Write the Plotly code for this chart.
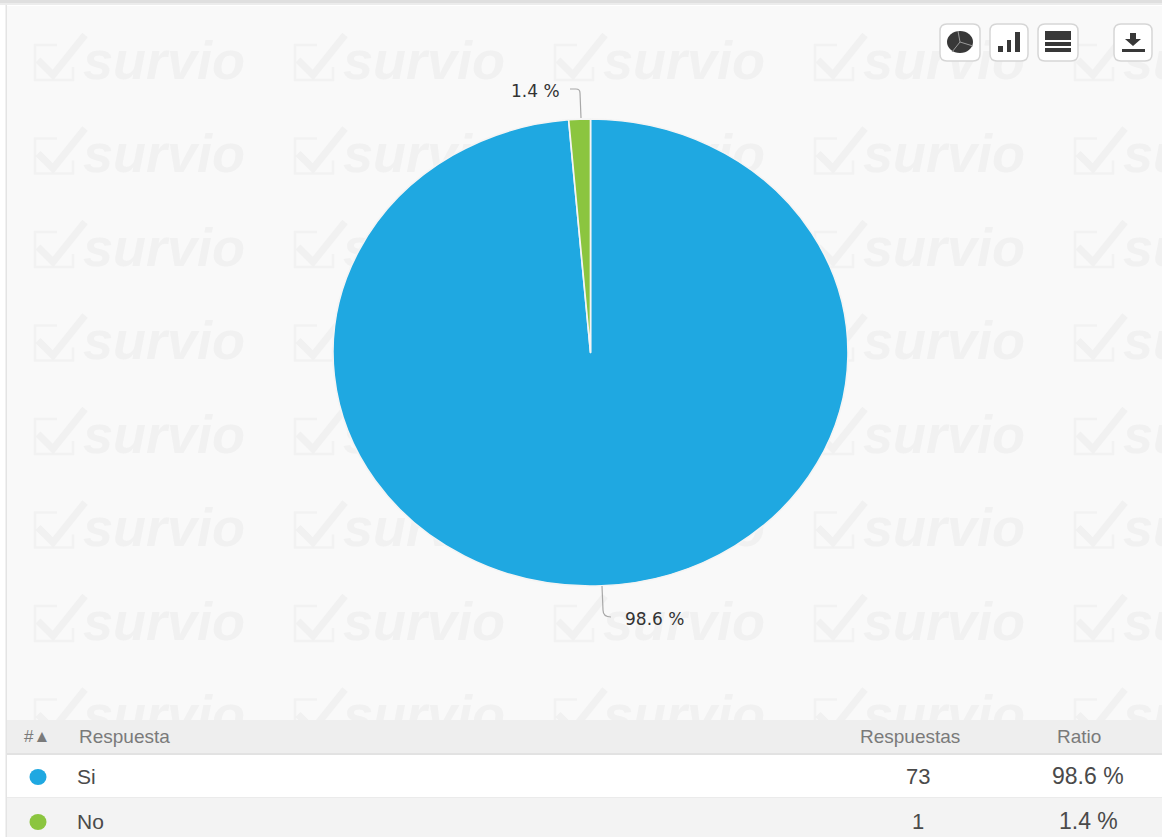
import plotly.graph_objects as go

# ---- data ----
answers = ["Si", "No"]
counts = [73, 1]
colors = ["#1fa8e1", "#8bc53f"]
headers = ["#▲", "Respuesta", "Respuestas", "Ratio"]
watermark = "survio"

W, H = 1162, 837
total = sum(counts)
ratios = [f"{c / total * 100:.1f} %" for c in counts]

# pie box, in page pixels
PIE_L, PIE_R, PIE_T, PIE_B = 333, 848, 119, 586
pie_d = PIE_B - PIE_T
pie_cx = (PIE_L + PIE_R) / 2

wm_cols = [33, 293, 553, 813, 1073]
wm_rows = [65, 158.5, 252, 345.5, 439, 532.5, 626, 719.5]

shapes = []


def rect(x0, y0, x1, y1, fill, layer="above", line=None, width=0):
    shapes.append(dict(type="rect", xref="x", yref="y", x0=x0, y0=y0, x1=x1, y1=y1,
                       fillcolor=fill, layer=layer,
                       line=dict(color=line or fill, width=width)))


def path(d, color=None, width=0, fill=None, layer="above"):
    shapes.append(dict(type="path", xref="x", yref="y", path=d, layer=layer,
                       fillcolor=fill or "rgba(0,0,0,0)",
                       line=dict(color=color or "rgba(0,0,0,0)", width=width)))


# page background
rect(0, 0, W, H, "#ffffff", "below")
rect(7, 6, W, H, "#f9f9f9", "below")
rect(5.5, 5, 7, H, "#e4e4e4", "below")
rect(0, 0, W, 3, "#dfdfdf", "below")
rect(0, 3, W, 5, "#ececec", "below")

# watermark tick boxes
for cx in wm_cols:
    for cy in wm_rows:
        path(f"M{cx + 24},{cy - 20} L{cx + 2},{cy - 20} L{cx + 2},{cy + 15} "
             f"L{cx + 40},{cy + 15} L{cx + 40},{cy + 2}", "#f2f2f2", 2.5, layer="below")
        path(f"M{cx + 5},{cy - 5} L{cx + 20},{cy + 10} L{cx + 52},{cy - 30}",
             "#f1f1f1", 7, layer="below")

# table bands
rect(7, 720, W, 753, "#eeeeee")
rect(7, 753, W, 755, "#e2e2e2")
rect(7, 755, W, 797, "#ffffff")
rect(7, 797, W, H, "#f3f3f3")
rect(7, 797, W, 798, "#ebebeb")

# legend dots
for color, cy in zip(colors, [777, 822]):
    shapes.append(dict(type="circle", xref="x", yref="y", x0=29.5, x1=46.5,
                       y0=cy - 8, y1=cy + 8, fillcolor=color, line=dict(width=0)))


# toolbar buttons
def button(x0, x1):
    y0, y1, r = 24, 61, 7
    d = (f"M{x0 + r},{y0} L{x1 - r},{y0} Q{x1},{y0} {x1},{y0 + r} L{x1},{y1 - r} "
         f"Q{x1},{y1} {x1 - r},{y1} L{x0 + r},{y1} Q{x0},{y1} {x0},{y1 - r} "
         f"L{x0},{y0 + r} Q{x0},{y0} {x0 + r},{y0} Z")
    path(d, "#d6d6d6", 1.5, "#ffffff")


for bx0, bx1 in [(940, 980), (990, 1028), (1038, 1078), (1114, 1152)]:
    button(bx0, bx1)

ICON = "#383838"
shapes.append(dict(type="circle", xref="x", yref="y", x0=947, x1=973, y0=31, y1=53,
                   fillcolor=ICON, line=dict(width=0)))
path("M960,42 L958,31 M960,42 L973,46 M960,42 L952,52", "#9a9a9a", 1)
for x0, x1, y0 in [(998, 1003, 46), (1007, 1011, 40), (1015, 1020, 32)]:
    rect(x0, y0, x1, 52, ICON)
rect(1045, 31, 1071, 40, ICON)
rect(1045, 42, 1071, 46, ICON)
rect(1045, 48, 1071, 52, ICON)
path("M1130,33 L1136,33 L1136,39 L1141,39 L1133,46 L1125,39 L1130,39 Z", fill=ICON)
rect(1122, 49, 1145, 52, ICON)

# pie leader lines
path("M570,89 L576,89 Q580,89 580,93 L581,118", "#a8a8a8", 1.2)
path("M602,586 L603,610 Q603,617 611,617", "#a8a8a8", 1.2)

annotations = []


def label(text, x, y, size, color, anchor="left", family="Liberation Sans"):
    annotations.append(dict(text=text, x=x, y=y, xref="x", yref="y", showarrow=False,
                            xanchor=anchor, yanchor="middle",
                            font=dict(family=family, size=size, color=color)))


# pie labels
label(ratios[1], 509, 91, 17, "#333333", family="DejaVu Sans")
label(ratios[0], 623, 619, 17, "#333333", family="DejaVu Sans")

# table text
HEAD = "#7a7a7a"
label(headers[0], 22, 736, 17, HEAD)
label(headers[1], 77, 736, 19, HEAD)
label(headers[2], 909.5, 736, 19, HEAD, "center")
label(headers[3], 1078.5, 736, 19, HEAD, "center")
for name, n, ratio, y in zip(answers, counts, ratios, [776, 821]):
    label(name, 75, y, 21, "#4a4a4a")
    label(str(n), 918, y, 22, "#4a4a4a", "center")
    label(ratio, 1088, y, 23, "#4a4a4a", "center")

wm_x = [c + 50 for c in wm_cols for _ in wm_rows]
wm_y = [r for _ in wm_cols for r in wm_rows]

fig = go.Figure()
fig.add_trace(go.Scatter(
    x=wm_x, y=wm_y, mode="text", text=[watermark] * len(wm_x), textposition="middle right",
    textfont=dict(family="Liberation Sans", size=54, color="#f1f1f1", style="italic", weight="bold"),
    hoverinfo="skip", showlegend=False, cliponaxis=True,
))
fig.add_trace(go.Pie(
    labels=answers, values=counts, sort=False, direction="clockwise", rotation=0,
    marker=dict(colors=colors, line=dict(color="#f4f4f4", width=1.5)),
    textinfo="none", showlegend=False,
    domain=dict(x=[(pie_cx - pie_d / 2) / W, (pie_cx + pie_d / 2) / W],
                y=[(H - PIE_B) / H, (H - PIE_T) / H]),
))
fig.update_layout(
    width=W, height=H, margin=dict(l=0, r=0, t=0, b=0), showlegend=False,
    paper_bgcolor="#ffffff", plot_bgcolor="rgba(0,0,0,0)",
    xaxis=dict(range=[0, W], visible=False, fixedrange=True),
    yaxis=dict(range=[H, 0], visible=False, fixedrange=True),
    shapes=shapes, annotations=annotations,
)

# the original pie is drawn slightly wider than tall
sx = (PIE_R - PIE_L) / pie_d
post = f"""
document.body.style.margin = '0';
document.documentElement.style.overflow = 'hidden';
document.querySelectorAll('.pielayer').forEach(function (g) {{
  g.setAttribute('transform', 'translate({pie_cx},0) scale({sx},1) translate({-pie_cx},0)');
}});
"""
fig.write_html("out.html", post_script=post, config=dict(displayModeBar=False))
